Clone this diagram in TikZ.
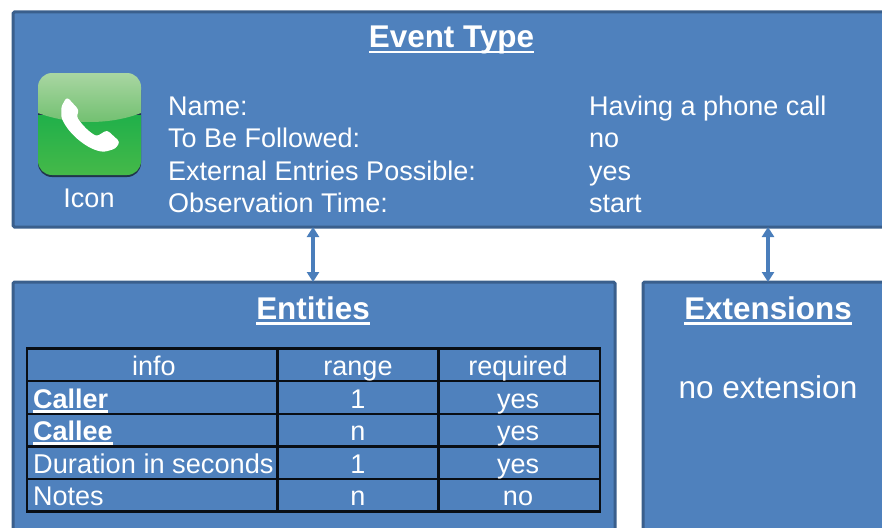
\documentclass[tikz,border=0pt]{standalone}
\usepackage{fontspec}
\setmainfont{Liberation Sans}
\usetikzlibrary{arrows.meta}
\definecolor{boxfill}{HTML}{4F81BD}
\definecolor{boxline}{HTML}{3A5F8C}
\definecolor{arrowc}{HTML}{4A7EBB}
\definecolor{gloss}{HTML}{A9D6A2}
\definecolor{glossb}{HTML}{6FBF6E}
\definecolor{greena}{HTML}{20B04A}
\definecolor{greenb}{HTML}{45B949}
\tikzset{
  panel/.style={draw=boxline,fill=boxfill,line width=3pt,rounded corners=1.5pt,anchor=north west,inner sep=0pt,outer sep=0pt},
  ttl/.style={text=white,font=\fontsize{31.4}{31.4}\selectfont\bfseries,anchor=base,inner sep=0pt},
  txt/.style={text=white,font=\fontsize{27}{27}\selectfont,anchor=base west,inner sep=0pt},
  ctxt/.style={txt,anchor=base},
  cell/.style={draw=black!85!boxline,line width=2.4pt,anchor=north west,inner sep=0pt,outer sep=0pt,minimum height=32.6pt},
  link/.style={draw=arrowc,line width=3.2pt,{Triangle[length=10pt,width=12pt]}-{Triangle[length=10pt,width=12pt]}},
}
\newcommand{\ulbig}[1]{\setbox0=\hbox{#1}\rlap{\rule[-5.5pt]{\wd0}{2.8pt}}\box0}
\newcommand{\ulsmall}[1]{\setbox0=\hbox{#1}\rlap{\rule[-4.5pt]{\wd0}{2.2pt}}\box0}
\begin{document}
\begin{tikzpicture}[x=1pt,y=-1pt]
\useasboundingbox (0,0) rectangle (882,527);
\clip (0,0) rectangle (882,527);
% panels
\node[panel,minimum width=900pt,minimum height=215pt] (event) at (13,12) {};
\node[panel,minimum width=602pt,minimum height=270pt] (entities) at (13,282) {};
\node[panel,minimum width=270pt,minimum height=270pt] (extensions) at (643,282) {};
% titles
\node[ttl] (eventtitle) at (451.5,48) {\ulbig{Event Type}};
\node[ttl] (enttitle) at (313,319) {\ulbig{Entities}};
\node[ttl] (exttitle) at (768,319) {\ulbig{Extensions}};
% connectors
\coordinate (a1) at (313,227);
\coordinate (b1) at (313,282);
\coordinate (a2) at (768,227);
\coordinate (b2) at (768,282);
\draw[link] (a1 |- event.south) -- (b1 |- entities.north);
\draw[link] (a2 |- event.south) -- (b2 |- extensions.north);
% icon
\fill[black!60!boxfill,rounded corners=14pt] (38,76) rectangle (141,177);
\begin{scope}
  \path[clip,rounded corners=14pt] (38,73) rectangle (141,175);
  \shade[bottom color=greenb,top color=greena] (38,115) rectangle (141,175);
  \shade[top color=gloss,bottom color=glossb] (38,73) -- (141,73) -- (141,113) .. controls (110,125) and (70,125) .. (38,113) -- cycle;
\end{scope}
\filldraw[white,line width=1.5pt,line join=round,rounded corners=2.5pt] (67,98) -- (78,110) -- (76,117) .. controls (82,126) and (89,133) .. (97,137) -- (107,131) -- (119,142) -- (115,148) -- (105,151) .. controls (90,150) and (70,135) .. (62,117) -- (62,107) -- cycle;
\node[ctxt] (icon) at (89,207) {Icon};
% properties
\node[txt] (n1) at (168,115) {Name:};
\node[txt] (n2) at (168,147) {To Be Followed:};
\node[txt] (n3) at (168,180) {External Entries Possible:};
\node[txt] (n4) at (168,212) {Observation Time:};
\node[txt] (v1) at (589,115) {Having a phone call};
\node[txt] (v2) at (589,147) {no};
\node[txt] (v3) at (589,180) {yes};
\node[txt] (v4) at (589,212) {start};
% table
\foreach \r/\y in {0/348.5,1/381.1,2/413.7,3/446.3,4/478.9}{
  \node[cell,minimum width=250.5pt] (c\r a) at (27,\y) {};
  \node[cell,minimum width=161pt] (c\r b) at (277.5,\y) {};
  \node[cell,minimum width=161.5pt] (c\r c) at (438.5,\y) {};
}
\node[ctxt] (h1) at (154,375) {info};
\node[ctxt] (h2) at (358,375) {range};
\node[ctxt] (h3) at (518,375) {required};
\node[txt,font=\fontsize{27}{27}\selectfont\bfseries] (r1) at (33,408) {\ulsmall{Caller}};
\node[ctxt] (r1b) at (358,408) {1};
\node[ctxt] (r1c) at (518,408) {yes};
\node[txt,font=\fontsize{27}{27}\selectfont\bfseries] (r2) at (33,440) {\ulsmall{Callee}};
\node[ctxt] (r2b) at (358,440) {n};
\node[ctxt] (r2c) at (518,440) {yes};
\node[txt,font=\fontsize{27.2}{27.2}\selectfont] (r3) at (33,473) {Duration in seconds};
\node[ctxt] (r3b) at (358,473) {1};
\node[ctxt] (r3c) at (518,473) {yes};
\node[txt] (r4) at (33,505) {Notes};
\node[ctxt] (r4b) at (358,505) {n};
\node[ctxt] (r4c) at (518,505) {no};
% extension text
\node[ctxt,font=\fontsize{31.5}{31.5}\selectfont] (noext) at (768,398) {no extension};
\end{tikzpicture}
\end{document}
